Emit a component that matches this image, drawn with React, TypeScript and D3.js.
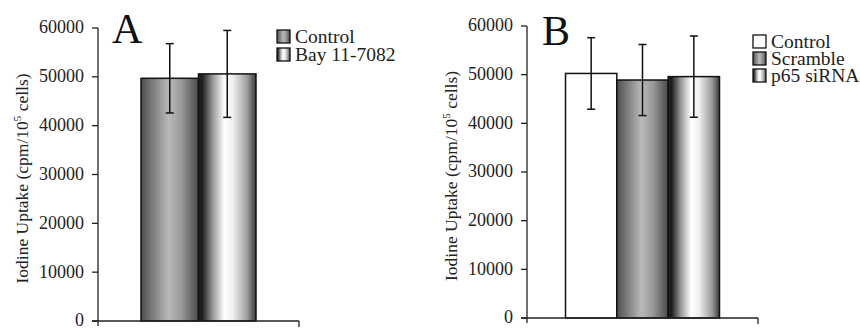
import React, { useEffect } from 'react';
import * as d3 from 'd3';

// panel A: control vs Bay 11-7082
const seriesA = ['Control', 'Bay 11-7082'];
const meansA = [49700, 50600];
const errorsA = [7100, 8900];
const fillsA = ['gray', 'white'];

// panel B: control / scramble / p65 siRNA
const seriesB = ['Control', 'Scramble', 'p65 siRNA'];
const meansB = [50250, 48900, 49600];
const errorsB = [7350, 7300, 8350];
const fillsB = ['plain', 'gray', 'white'];

const yTicks = [0, 10000, 20000, 30000, 40000, 50000, 60000];

const FONT = '"Liberation Serif", "Times New Roman", serif';
const INK = '#222';

const fillFor = (kind: string, id: string) =>
  kind === 'plain' ? '#fff' : `url(#grad-${kind}-${id})`;

interface PanelProps {
  id: string;
  letter: string;
  series: string[];
  means: number[];
  errors: number[];
  fills: string[];
  x0: number; // y axis position
  x1: number; // x axis end
  yTop: number;
  yBottom: number;
  outerPad: number;
  letterX: number;
  letterY: number;
  legendX: number;
  legendY: number;
  legendStep: number;
}

const Panel: React.FC<PanelProps> = (p) => {
  const y = d3.scaleLinear().domain([0, 60000]).range([p.yBottom, p.yTop]);
  const group = d3.scaleBand<string>().domain(['g']).range([p.x0, p.x1]).paddingOuter(p.outerPad).paddingInner(0);
  const x = d3.scaleBand<string>().domain(p.series)
    .range([group('g')!, group('g')! + group.bandwidth()]).padding(0);
  const bw = x.bandwidth();
  const cap = 4;

  return (
    <g>
      <defs>
        <linearGradient id={`grad-gray-${p.id}`} x1="0" x2="1" y1="0" y2="0">
          <stop offset="0" stopColor="#4e4e4e" />
          <stop offset="0.12" stopColor="#6a6a6a" />
          <stop offset="0.48" stopColor="#b9b9b9" />
          <stop offset="0.7" stopColor="#9a9a9a" />
          <stop offset="1" stopColor="#4a4a4a" />
        </linearGradient>
        <linearGradient id={`grad-white-${p.id}`} x1="0" x2="1" y1="0" y2="0">
          <stop offset="0" stopColor="#2a2a2a" />
          <stop offset="0.06" stopColor="#1a1a1a" />
          <stop offset="0.25" stopColor="#9a9a9a" />
          <stop offset="0.45" stopColor="#ffffff" />
          <stop offset="0.6" stopColor="#f0f0f0" />
          <stop offset="0.85" stopColor="#9c9c9c" />
          <stop offset="1" stopColor="#3a3a3a" />
        </linearGradient>
      </defs>

      {/* bars */}
      {p.series.map((s, i) => (
        <rect key={s} x={x(s)} y={y(p.means[i])} width={bw} height={y(0) - y(p.means[i])}
          fill={fillFor(p.fills[i], p.id)} stroke="#111" strokeWidth={1.5} />
      ))}

      {/* error bars */}
      {p.series.map((s, i) => {
        const cx = x(s)! + bw / 2;
        const hi = y(p.means[i] + p.errors[i]);
        const lo = y(p.means[i] - p.errors[i]);
        return (
          <g key={s} stroke="#111" strokeWidth={1.5}>
            <line x1={cx} x2={cx} y1={hi} y2={lo} />
            <line x1={cx - cap} x2={cx + cap} y1={hi} y2={hi} />
            <line x1={cx - cap} x2={cx + cap} y1={lo} y2={lo} />
          </g>
        );
      })}

      {/* axes */}
      <g stroke="#222" strokeWidth={1.3}>
        <line x1={p.x0} x2={p.x0} y1={y(60000)} y2={y(0) + 5} />
        <line x1={p.x0 - 6} x2={p.x1} y1={y(0)} y2={y(0)} />
        <line x1={p.x1} x2={p.x1} y1={y(0)} y2={y(0) + 6} />
        {yTicks.map(t => (
          <line key={t} x1={p.x0 - 6} x2={p.x0} y1={y(t)} y2={y(t)} />
        ))}
      </g>
      {yTicks.map(t => (
        <text key={t} x={p.x0 - 14} y={y(t)} dy="0.3em" textAnchor="end"
          fontFamily={FONT} fontSize={18} fill={INK}>{t}</text>
      ))}

      {/* y label */}
      <text transform={`translate(${p.x0 - 70},${(y(0) + y(60000)) / 2 + 4}) rotate(-90)`}
        textAnchor="middle" fontFamily={FONT} fontSize={17.5} fill={INK}>
        Iodine Uptake (cpm/10<tspan fontSize={11} dy={-7}>5</tspan><tspan dy={7}> cells)</tspan>
      </text>

      {/* panel letter */}
      <text x={p.letterX} y={p.letterY} fontFamily={FONT} fontSize={42} fill="#111">{p.letter}</text>

      {/* legend */}
      {p.series.map((s, i) => (
        <g key={s} transform={`translate(${p.legendX},${p.legendY + i * p.legendStep})`}>
          <rect x={0} y={-13} width={13} height={13} fill={fillFor(p.fills[i], p.id)} stroke="#111" strokeWidth={1.3} />
          <text x={18} y={0} fontFamily={FONT} fontSize={19.5} fill={INK}>{s}</text>
        </g>
      ))}
    </g>
  );
};

export default function App() {
  useEffect(() => {
    document.body.style.margin = '0';
  }, []);

  return (
    <svg width={860} height={328} style={{ display: 'block', background: '#fff' }}>
      <Panel id="a" letter="A" series={seriesA} means={meansA} errors={errorsA} fills={fillsA}
        x0={98} x1={299} yTop={28} yBottom={321} outerPad={0.374}
        letterX={112} letterY={43} legendX={277} legendY={43} legendStep={18} />
      <Panel id="b" letter="B" series={seriesB} means={meansB} errors={errorsB} fills={fillsB}
        x0={527} x1={758} yTop={26} yBottom={318} outerPad={0.25}
        letterX={542} letterY={45} legendX={753} legendY={48} legendStep={17} />
    </svg>
  );
}
